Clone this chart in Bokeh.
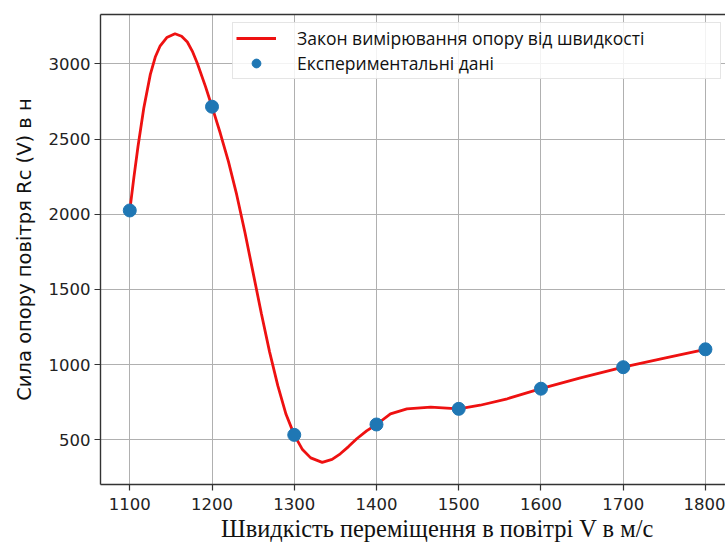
from bokeh.plotting import figure
from bokeh.models import Range1d, FixedTicker, LinearAxis, Legend, LegendItem
from bokeh.embed import file_html
from bokeh.resources import INLINE

# Experimental data (velocity m/s, drag force N)
exp_v = [1100, 1200, 1300, 1400, 1500, 1600, 1700, 1800]
exp_rc = [2025, 2715, 533, 602, 706, 840, 983, 1102]

# Fitted law curve
curve_v = [1100, 1105, 1110, 1117, 1125, 1131, 1137, 1145, 1155, 1163, 1170,
           1176, 1182, 1192, 1200, 1210, 1220, 1230, 1240, 1250, 1260, 1270,
           1280, 1290, 1300, 1310, 1320, 1334, 1346, 1356, 1366, 1376, 1388,
           1400, 1417, 1437, 1466, 1500, 1526, 1559, 1600, 1648, 1700, 1753,
           1800]
curve_rc = [2025, 2245, 2450, 2705, 2930, 3045, 3120, 3175, 3200, 3183, 3145,
            3085, 3005, 2850, 2715, 2540, 2350, 2130, 1880, 1610, 1340, 1085,
            860, 670, 533, 435, 380, 350, 370, 407, 455, 507, 560,
            602, 673, 706, 718, 706, 730, 773, 840, 912, 983, 1047,
            1102]

x_ticks = [1100, 1200, 1300, 1400, 1500, 1600, 1700, 1800]
y_ticks = [500, 1000, 1500, 2000, 2500, 3000]

x_label = "Швидкість переміщення в повітрі V в м/с"
y_label = "Сила опору повітря Rc (V) в н"
line_label = "Закон вимірювання опору від швидкості"
dots_label = "Експериментальні дані"

p = figure(width=725, height=549, output_backend="svg", toolbar_location=None,
           x_range=Range1d(1064.4, 1824.4), y_range=Range1d(203, 3328),
           min_border_left=100, min_border_right=0, min_border_top=14,
           min_border_bottom=65)
p.outline_line_color = None
p.background_fill_color = "white"
p.border_fill_color = "white"

# grid
p.xgrid.ticker = FixedTicker(ticks=x_ticks)
p.ygrid.ticker = FixedTicker(ticks=y_ticks)
for g in (p.xgrid, p.ygrid):
    g.grid_line_color = "#b0b0b0"
    g.grid_line_width = 1

# axes
p.xaxis.ticker = FixedTicker(ticks=x_ticks)
p.yaxis.ticker = FixedTicker(ticks=y_ticks)
for ax in (p.xaxis[0], p.yaxis[0]):
    ax.axis_line_color = "#333333"
    ax.axis_line_width = 1.4
    ax.major_tick_line_color = "#333333"
    ax.major_tick_line_width = 1.2
    ax.major_tick_out = 6
    ax.major_tick_in = 0
    ax.minor_tick_out = 0
    ax.minor_tick_in = 0
    ax.major_label_text_font = "DejaVu Sans"
    ax.major_label_text_font_size = "16.5px"
    ax.major_label_text_color = "#222222"
    ax.axis_label_text_font_style = "normal"
    ax.axis_label_text_color = "#111111"

p.xaxis.major_label_standoff = 7
p.yaxis.major_label_standoff = 4

# leading no-break spaces shift the title a little right of the frame centre,
# as in the original
p.xaxis.axis_label = "\u00a0" * 8 + x_label
p.xaxis.axis_label_text_font = "Liberation Serif"
p.xaxis.axis_label_text_font_size = "24.4px"
p.xaxis.axis_label_standoff = 2

p.yaxis.axis_label = y_label
p.yaxis.axis_label_text_font = "DejaVu Sans"
p.yaxis.axis_label_text_font_size = "19.5px"
p.yaxis.axis_label_standoff = 10

top = LinearAxis(ticker=FixedTicker(ticks=[]), major_label_text_font_size="0px",
                 major_tick_out=0, major_tick_in=0, minor_tick_out=0,
                 minor_tick_in=0, major_label_standoff=0,
                 axis_line_color="#333333", axis_line_width=1.4)
p.add_layout(top, "above")

line_r = p.line(curve_v, curve_rc, line_color="#ee1111", line_width=2.8)
dots_r = p.scatter(exp_v, exp_rc, size=13, fill_color="#1f77b4",
                   line_color="#1f77b4")

legend = Legend(items=[LegendItem(label=line_label, renderers=[line_r]),
                       LegendItem(label=dots_label, renderers=[dots_r])],
                location=(132, 405), padding=3, spacing=1,
                glyph_width=40, glyph_height=22, label_height=22,
                label_standoff=21, label_width=420,
                label_text_font="Open Sans", label_text_font_size="17.5px",
                label_text_color="#111111",
                border_line_color="#cccccc", border_line_width=1,
                background_fill_color="white", background_fill_alpha=0.85)
p.add_layout(legend)

open("out.html", "w").write(file_html(p, INLINE))
